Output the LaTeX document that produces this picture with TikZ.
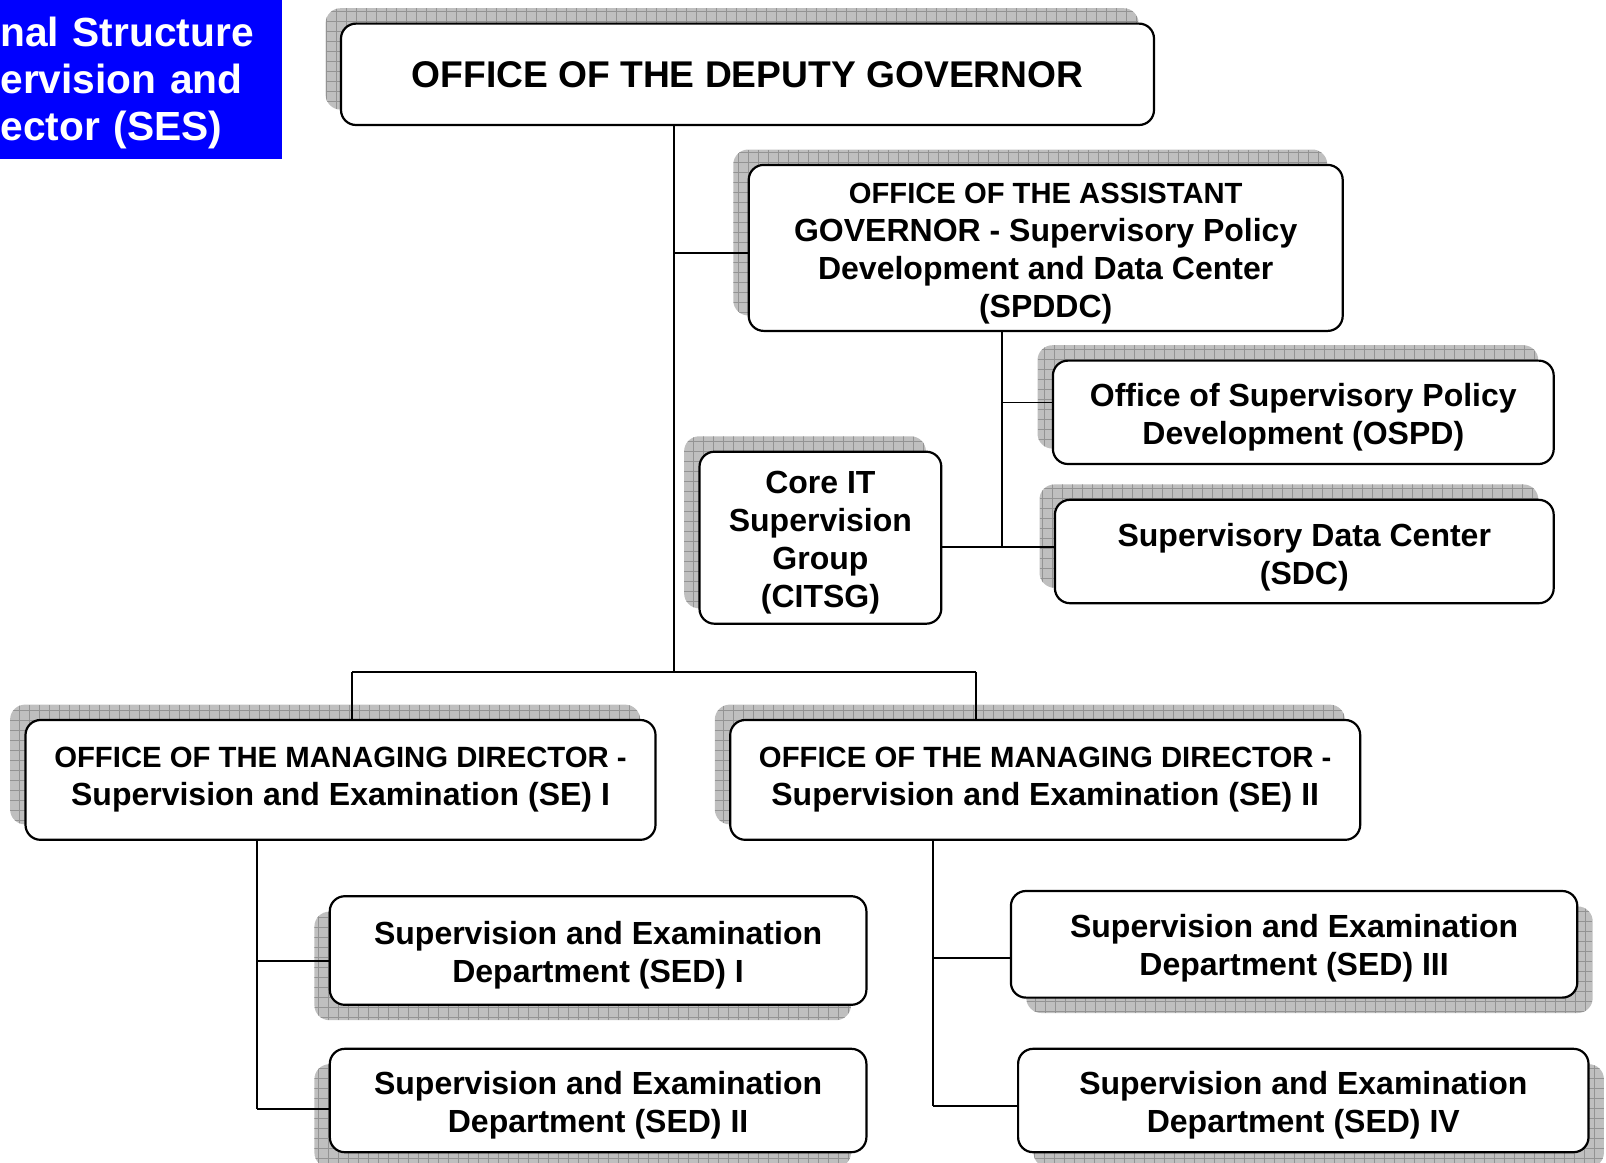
\documentclass[tikz,border=0pt]{standalone}
\usepackage{fontspec}
\setmainfont{Liberation Sans}
\usetikzlibrary{shadows}
\definecolor{titleblue}{RGB}{0,0,255}
% invisible strut that pushes the first line of a box down
\newcommand{\topgap}[1]{\rule{0pt}{#1}}

\begin{document}
\begin{tikzpicture}[
      x=0.5pt, y=-0.5pt,
      every node/.style={font=\bfseries\fontsize{16}{19}\selectfont},
      grid fill/.style={
          fill=gray!50,
          path picture={\draw[gray!85, line width=0.35pt, step=5pt]
              (path picture bounding box.south west) grid (path picture bounding box.north east);}
        },
      box/.style={
          draw,
          line width=1.1pt,
          fill=white,
          rounded corners=7.5pt,
          align=center,
          inner sep=0pt
        },
      shade up/.style={general shadow={grid fill, shadow xshift=-7.7pt, shadow yshift=7.7pt}},
      shade dl/.style={general shadow={grid fill, shadow xshift=-7.7pt, shadow yshift=-7.7pt}},
      shade dr/.style={general shadow={grid fill, shadow xshift=7.7pt, shadow yshift=-7.7pt}},
      link/.style={draw, line width=0.9pt}
    ]
    \useasboundingbox (0,0) rectangle (1606,1162);

    % title banner
    \node[fill=titleblue, text=white, anchor=north west, minimum width=140.85pt,
      minimum height=79.4pt, text width=140.85pt, inner xsep=0pt, inner ysep=0pt,
      align=left, font=\bfseries\fontsize{20.35}{23.6}\selectfont] (title) at (0,0)
      {\topgap{18pt}nal Structure\\ervision and\\ector (SES)};

    % offices
    \node[box, shade up, minimum width=406.5pt, minimum height=50.7pt,
      font=\bfseries\fontsize{18.6}{22}\selectfont] (deputy) at (747.5,74.3)
      {OFFICE OF THE DEPUTY GOVERNOR};
    \node[box, shade up, minimum width=297pt, minimum height=83pt] (asst) at (1045.7,247.9)
      {\topgap{15.7pt}{\fontsize{14.6}{19}\selectfont OFFICE OF THE ASSISTANT}\\GOVERNOR - Supervisory Policy\\Development and Data Center\\(SPDDC)};
    \node[box, shade up, minimum width=250.4pt, minimum height=51.7pt] (ospd) at (1303.3,412.3)
      {\topgap{16.7pt}Office of Supervisory Policy\\Development (OSPD)};
    \node[box, shade up, minimum width=249.4pt, minimum height=51.7pt] (sdc) at (1304.3,551.5)
      {\topgap{17pt}Supervisory Data Center\\(SDC)};
    \node[box, shade up, minimum width=120.9pt, minimum height=86pt] (citsg) at (820.4,537.7)
      {\topgap{15.7pt}Core IT\\Supervision\\Group\\(CITSG)};
    \node[box, shade up, minimum width=315pt, minimum height=59.9pt] (mdI) at (340.5,779.9)
      {{\fontsize{14.65}{19}\selectfont OFFICE OF THE MANAGING DIRECTOR -}\\Supervision and Examination (SE) I};
    \node[box, shade up, minimum width=315pt, minimum height=59.9pt] (mdII) at (1045.2,779.9)
      {{\fontsize{14.65}{19}\selectfont OFFICE OF THE MANAGING DIRECTOR -}\\Supervision and Examination (SE) II};

    % departments
    \node[box, shade dl, minimum width=268.3pt, minimum height=54.3pt] (sedI) at (598.1,950.5)
      {\topgap{16pt}Supervision and Examination\\Department (SED) I};
    \node[box, shade dl, minimum width=268.3pt, minimum height=51.7pt] (sedII) at (598.1,1100.5)
      {\topgap{16.5pt}Supervision and Examination\\Department (SED) II};
    \node[box, shade dr, minimum width=283.2pt, minimum height=53.3pt] (sedIII) at (1294.1,944.3)
      {\topgap{16pt}Supervision and Examination\\Department (SED) III};
    \node[box, shade dr, minimum width=285.2pt, minimum height=51.7pt] (sedIV) at (1303.3,1100.5)
      {\topgap{16.7pt}Supervision and Examination\\Department (SED) IV};

    % junctions
    \coordinate (trunk) at (674,671.9);
    \coordinate (gjoin) at (674,253);
    \coordinate (splitL) at (352.3,671.9);
    \coordinate (splitR) at (976.1,671.9);
    \coordinate (aspine) at (1001.7,546.9);
    \coordinate (ajoin) at (1001.7,402.5);
    \coordinate (lspine) at (257.1,1109.2);
    \coordinate (ljoin) at (257.1,960.7);
    \coordinate (rspine) at (933,1106.1);
    \coordinate (rjoin) at (933,957.6);

    % connectors
    \path[link] (trunk |- deputy.south) -- (trunk);
    \path[link] (gjoin) -- (gjoin -| asst.west);
    \path[link] (splitL) -- (splitR);
    \path[link] (splitL) -- (splitL |- mdI.north);
    \path[link] (splitR) -- (splitR |- mdII.north);

    \path[link] (aspine |- asst.south) -- (aspine);
    \path[link] (ajoin) -- (ajoin -| ospd.west);
    \path[link] (citsg.east |- aspine) -- (aspine -| sdc.west);

    \path[link] (lspine |- mdI.south) -- (lspine);
    \path[link] (ljoin) -- (ljoin -| sedI.west);
    \path[link] (lspine) -- (lspine -| sedII.west);

    \path[link] (rspine |- mdII.south) -- (rspine);
    \path[link] (rjoin) -- (rjoin -| sedIII.west);
    \path[link] (rspine) -- (rspine -| sedIV.west);
\end{tikzpicture}
\end{document}
